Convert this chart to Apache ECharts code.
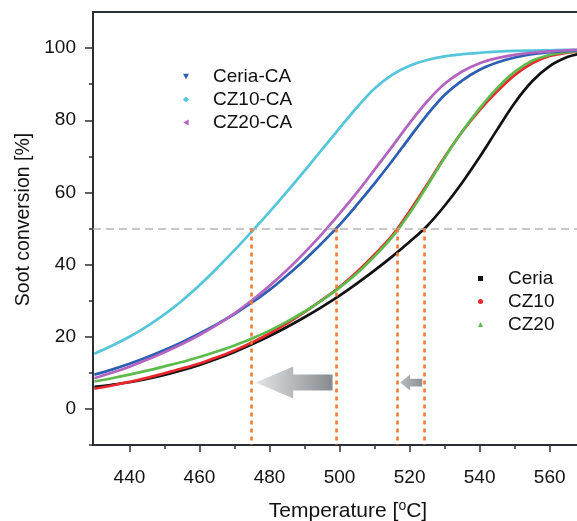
<!DOCTYPE html>
<html>
<head>
<meta charset="utf-8">
<script src="https://cdn.jsdelivr.net/npm/echarts@6/dist/echarts.min.js"></script>
<style>html,body{margin:0;padding:0;background:#fff}#c{width:577px;height:521px}</style>
</head>
<body>
<div id="c"></div>
<script>
// ---------- data ----------
const temps = [430,435,440,445,450,455,460,465,470,475,480,485,490,495,500,505,510,515,520,525,530,535,540,545,550,555,560,565,568];
const ceria   = [6.1,6.7,7.4,8.3,9.4,10.7,12.2,13.9,15.8,17.9,20.2,22.7,25.4,28.3,31.4,34.8,38.4,42.2,46.3,50.7,56.3,62.7,69.8,77.4,84.8,90.8,95.0,97.5,98.3];
const cz10    = [5.6,6.5,7.5,8.6,9.9,11.2,12.6,14.3,16.2,18.4,20.9,23.7,26.8,30.2,33.8,38.0,42.8,48.0,54.8,62.2,69.8,76.8,82.8,88.0,92.5,95.8,97.8,98.7,99.0];
const cz20    = [7.6,8.5,9.5,10.6,11.8,13.0,14.4,15.9,17.6,19.5,21.7,24.2,27.0,30.1,33.6,37.6,42.3,47.6,54.2,61.8,69.6,76.9,83.3,88.9,93.4,96.5,98.1,98.9,99.1];
const ceriaCA = [9.5,10.9,12.5,14.3,16.3,18.5,20.9,23.5,26.3,29.5,33.0,37.0,41.3,46.0,51.0,56.6,62.5,68.7,75.2,81.5,87.0,91.0,94.0,96.0,97.4,98.3,98.9,99.2,99.3];
const cz10CA  = [15.3,17.5,20.0,22.9,26.2,30.0,34.3,39.0,44.0,49.2,54.6,60.2,66.0,71.9,77.8,83.6,88.8,92.6,95.1,96.7,97.7,98.3,98.7,99.0,99.2,99.3,99.4,99.5,99.5];
const cz20CA  = [8.5,10.0,11.7,13.6,15.7,18.0,20.5,23.3,26.5,30.1,34.1,38.5,43.3,48.5,54.1,60.0,66.3,72.7,79.2,85.2,90.1,93.5,95.8,97.2,98.1,98.7,99.1,99.4,99.5];
const halfLevel = 50;                      // 50 % conversion
const t50Marks = [474.9, 499, 516.6, 524.2];   // T50 temperatures
const arrowTails = [498, 523.6];
const arrowTips  = [476, 517.3];
const arrowLevel = [7.3, 7.3];
const xMajorTicks = [440,460,480,500,520,540,560];
const xMinorTicks = [450,470,490,510,530,550];
const yMajorTicks = [0,20,40,60,80,100];
const yMinorTicks = [-10,10,30,50,70,90];

// ---------- chart ----------
const FONT = '"Liberation Sans", Arial, Helvetica, sans-serif';
const AX = '#2b2f33';
const chart = echarts.init(document.getElementById('c'), null, {renderer:'canvas'});
const pair = arr => temps.map((t,i)=>[t,arr[i]]);
const lineSeries = (name, arr, color) => ({
  name, type:'line', data: pair(arr), showSymbol:false, symbol:'none', smooth:0.35,
  lineStyle:{color, width:2.7}, itemStyle:{color}, silent:true, animation:false, z:3
});
const arrowStyle = [
  {headHalf:16, shaftHalf:8, headFrac:0.49, c0:'#e3e5e7', c1:'#878b8f'},
  {headHalf:8, shaftHalf:3.8, headFrac:0.45, c0:'#b8bbbe', c1:'#8e9295'}
];
const xBase = {type:'value', min:429.6, max:567.8, gridIndex:0, splitLine:{show:false}};
const yBase = {type:'value', min:-10, max:110, interval:10, splitLine:{show:false}};

chart.setOption({
  animation:false,
  backgroundColor:'#fff',
  grid:{left:93, right:0, top:12, bottom:76, containLabel:false, outerBoundsMode:'none'},
  xAxis:[
    Object.assign({}, xBase, {
      position:'bottom',
      axisLine:{show:true, onZero:false, lineStyle:{color:AX, width:2}},
      axisTick:{show:true, inside:false, length:7, customValues:xMajorTicks, lineStyle:{color:AX, width:1.5}},
      axisLabel:{show:true, customValues:xMajorTicks, margin:23, fontSize:19, color:'#111', fontFamily:FONT},
      name:'{t|Temperature [}{s|o}{t|C]}', nameLocation:'middle', nameGap:54,
      nameTextStyle:{padding:[0,0,0,26], rich:{
        t:{fontSize:21, fontFamily:FONT, color:'#111', lineHeight:24},
        s:{fontSize:14, fontFamily:FONT, color:'#111', lineHeight:14, verticalAlign:'top', padding:[0,0,12,0]}
      }}
    }),
    Object.assign({}, xBase, {
      position:'bottom',
      axisLine:{show:false, onZero:false},
      axisTick:{show:true, inside:false, length:4, customValues:xMinorTicks, lineStyle:{color:AX, width:1.5}},
      axisLabel:{show:false}
    }),
    Object.assign({}, xBase, {
      position:'top',
      axisLine:{show:true, onZero:false, lineStyle:{color:AX, width:2}},
      axisTick:{show:false}, axisLabel:{show:false}
    })
  ],
  yAxis:[
    Object.assign({}, yBase, {
      position:'left',
      axisLine:{show:true, onZero:false, lineStyle:{color:AX, width:2}},
      axisTick:{show:true, inside:false, length:8, customValues:yMajorTicks, lineStyle:{color:AX, width:1.5}},
      axisLabel:{show:true, customValues:yMajorTicks, margin:17, fontSize:19, color:'#111', fontFamily:FONT},
      name:'Soot conversion [%]', nameLocation:'middle', nameGap:58,
      nameTextStyle:{fontSize:19.5, color:'#111', fontFamily:FONT, padding:[0,0,0,18]}
    }),
    Object.assign({}, yBase, {
      position:'left',
      axisLine:{show:false, onZero:false},
      axisTick:{show:true, inside:false, length:4, customValues:yMinorTicks, lineStyle:{color:AX, width:1.5}},
      axisLabel:{show:false}
    })
  ],
  legend:[
    {
      orient:'vertical', left:178, top:62, itemGap:4, itemWidth:6, itemHeight:6,
      textStyle:{fontSize:19, color:'#111', fontFamily:FONT, padding:[0,0,0,19]},
      selectedMode:false,
      data:[
        {name:'Ceria-CA', icon:'path://M0,0 L10,0 L5,9 Z'},
        {name:'CZ10-CA', icon:'diamond'},
        {name:'CZ20-CA', icon:'path://M9,0 L9,10 L0,5 Z'}
      ]
    },
    {
      orient:'vertical', left:473, top:264, itemGap:4, itemWidth:5, itemHeight:5,
      textStyle:{fontSize:19, color:'#111', fontFamily:FONT, padding:[0,0,0,20]},
      selectedMode:false,
      data:[
        {name:'Ceria', icon:'rect'},
        {name:'CZ10', icon:'circle'},
        {name:'CZ20', icon:'triangle'}
      ]
    }
  ],
  series:[
    {
      name:'guides', type:'line', data:[], silent:true, symbol:'none',
      markLine:{
        silent:true, symbol:['none','none'], label:{show:false}, animation:false,
        data:[
          {yAxis:halfLevel, lineStyle:{color:'#b5b5b5', width:1.6, type:[8,5]}},
          ...t50Marks.map(t=>[
            {coord:[t,halfLevel], lineStyle:{color:'#f47a32', width:2.6, type:[4,4]}},
            {coord:[t,-10]}
          ])
        ]
      }
    },
    lineSeries('Ceria', ceria, '#111111'),
    lineSeries('CZ10', cz10, '#e8282c'),
    lineSeries('CZ20', cz20, '#5dbb4c'),
    lineSeries('Ceria-CA', ceriaCA, '#2c5fb2'),
    lineSeries('CZ10-CA', cz10CA, '#55c6da'),
    lineSeries('CZ20-CA', cz20CA, '#b264c0'),
    {
      name:'shift', type:'custom', silent:true, z:4,
      data: arrowTails.map((t,i)=>[t, arrowTips[i], arrowLevel[i]]),
      renderItem:(params, api)=>{
        const s = arrowStyle[params.dataIndex];
        const tail = api.coord([api.value(0), api.value(2)]);
        const tip = api.coord([api.value(1), api.value(2)]);
        const len = tail[0]-tip[0];
        const hb = tip[0] + len*s.headFrac;
        const y = tip[1];
        return {
          type:'polygon',
          shape:{points:[[tip[0],y],[hb,y-s.headHalf],[hb,y-s.shaftHalf],[tail[0],y-s.shaftHalf],[tail[0],y+s.shaftHalf],[hb,y+s.shaftHalf],[hb,y+s.headHalf]]},
          style:{fill:new echarts.graphic.LinearGradient(0,0,1,0,[{offset:0,color:s.c0},{offset:1,color:s.c1}])}
        };
      }
    }
  ]
});
</script>
</body>
</html>
